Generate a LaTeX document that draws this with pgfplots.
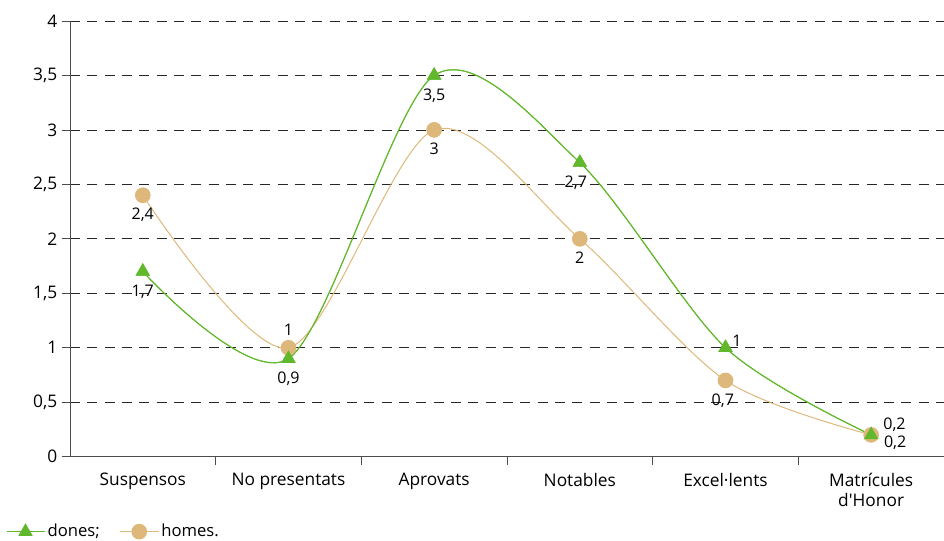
\documentclass[border=0pt]{standalone}
\usepackage{pgfplots}
\pgfplotsset{compat=1.18}
\usepackage{fontspec}
\setmainfont{Open Sans}
\definecolor{cgreen}{RGB}{98,184,44}
\definecolor{ctan}{RGB}{222,184,122}
\pgfplotstableread{
x y
0 1.7
1 0.9
2 3.5
3 2.7
4 1.0
5 0.2
}\dones
\pgfplotstableread{
x y
0 2.4
1 1.0
2 3.0
3 2.0
4 0.7
5 0.2
}\homes
\begin{document}
\begin{tikzpicture}
\begin{axis}[
  scale only axis, width=656pt, height=327pt,
  xmin=-0.5, xmax=5.5, ymin=0, ymax=4,
  axis lines=left,
  axis line style={-, draw=black!70, line width=0.6pt},
  ytick={0,0.5,...,4},
  ymajorgrids,
  grid style={dash pattern=on 7.5pt off 5.5pt, black!85, line width=0.6pt},
  tick align=outside,
  major tick length=6pt,
  minor tick length=6pt,
  y tick label style={/pgf/number format/use comma, /pgf/number format/assume math mode=true, font=\fontsize{13}{15}\selectfont},
  ytick style={draw=black!70, line width=0.6pt},
  xtick={0,...,5},
  xticklabels={Suspensos, No presentats, Aprovats, Notables, Excel·lents, {Matrícules\\d\textquotesingle Honor}},
  x tick label style={align=center, font=\fontsize{13}{15}\selectfont, yshift=-3pt},
  major x tick style={draw=none},
  minor xtick={0.5,1.5,2.5,3.5,4.5},
  minor x tick style={draw=black!70, line width=0.6pt},
  legend style={at={(-0.078,-0.172)}, anchor=west, draw=none, fill=none, font=\fontsize{12.5}{14}\selectfont},
  legend columns=-1,
  legend image code/.code={\draw[mark repeat=2,mark phase=2] plot coordinates {(0cm,0cm) (0.5cm,0cm) (1cm,0cm)};},
  every axis legend/.append style={/tikz/every even column/.append style={column sep=13pt}},
  lbl/.style n args={3}{forget plot, draw=none, mark=none, point meta=y,
    nodes near coords={\pgfmathprintnumber[use comma, assume math mode=true]{\pgfplotspointmeta}},
    nodes near coords style={anchor=#1, xshift=#2, yshift=#3, text=black, font=\fontsize{12}{14}\selectfont, inner sep=0pt}},
  donestyle/.style={cgreen, line width=0.75pt, smooth, mark=triangle*, mark size=5.5pt,
    mark options={fill=cgreen, draw=cgreen}},
  clip=false,
]
\addplot[donestyle] table[x=x, y=y]{\dones};
\addlegendentry{dones;}
\addplot[ctan, line width=0.75pt, smooth, mark=*, mark size=5.5pt,
  mark options={fill=ctan, draw=ctan}]
  table[x=x, y=y]{\homes};
\addlegendentry{homes.}
% redraw dones on top of homes
\addplot[donestyle, forget plot] table[x=x, y=y]{\dones};
% data labels
\addplot[lbl={base}{0pt}{-18.5pt}] coordinates {(0,1.7) (1,0.9) (2,3.5)};
\addplot[lbl={base}{-3pt}{-18.5pt}] coordinates {(3,2.7)};
\addplot[lbl={base west}{5pt}{1pt}] coordinates {(4,1.0)};
\addplot[lbl={base west}{9.5pt}{-9.5pt}] coordinates {(5,0.2)};
\addplot[lbl={base}{0pt}{-18.5pt}] coordinates {(0,2.4) (2,3.0) (3,2.0)};
\addplot[lbl={base}{-2pt}{-19pt}] coordinates {(4,0.7)};
\addplot[lbl={base}{0pt}{9pt}] coordinates {(1,1.0)};
\addplot[lbl={base west}{9pt}{4pt}] coordinates {(5,0.2)};
\coordinate (sw) at (rel axis cs:0,0);
\coordinate (ne) at (rel axis cs:1,1);
\end{axis}
\pgfresetboundingbox
\path ([xshift=-52.5pt,yshift=-63pt]sw) rectangle ([yshift=15.75pt]ne);
\end{tikzpicture}
\end{document}
